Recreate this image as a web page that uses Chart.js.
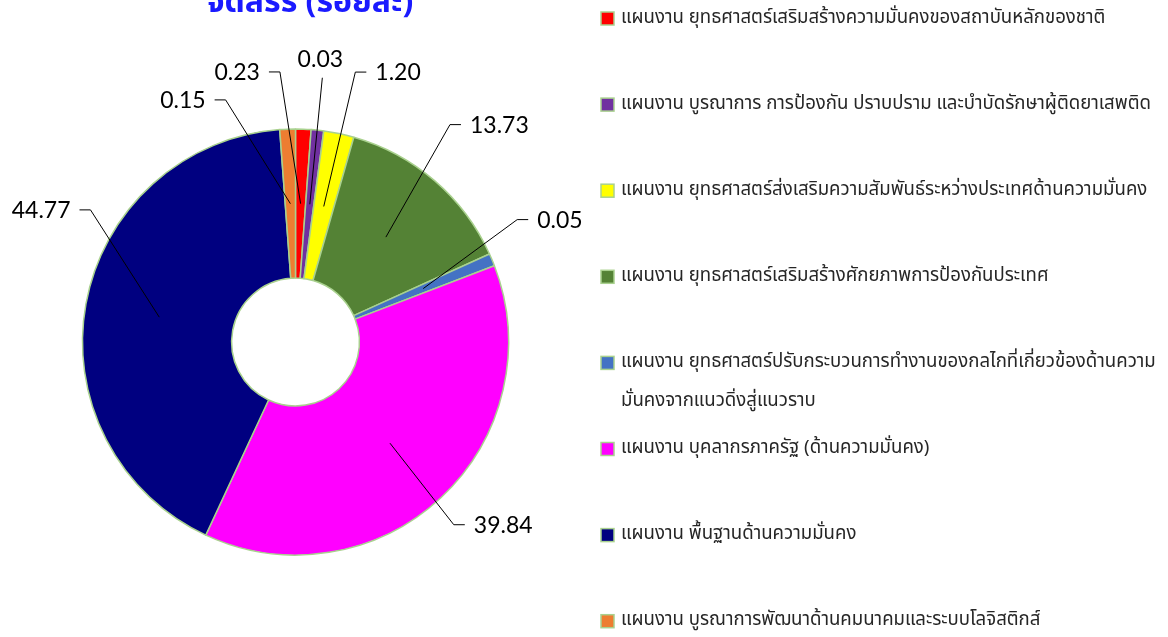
<!DOCTYPE html>
<html>
<head>
<meta charset="utf-8">
<script src="https://cdn.jsdelivr.net/npm/chart.js@4.4.1/dist/chart.umd.min.js"></script>
<style>
  html, body { margin: 0; padding: 0; background: #fff; overflow: hidden; }
</style>
</head>
<body>
<canvas id="myChart" width="1168" height="637"></canvas>
<script>
// ข้อมูลของกราฟ
const categories = [
  'แผนงาน ยุทธศาสตร์เสริมสร้างความมั่นคงของสถาบันหลักของชาติ',
  'แผนงาน บูรณาการ การป้องกัน ปราบปราม และบำบัดรักษาผู้ติดยาเสพติด',
  'แผนงาน ยุทธศาสตร์ส่งเสริมความสัมพันธ์ระหว่างประเทศด้านความมั่นคง',
  'แผนงาน ยุทธศาสตร์เสริมสร้างศักยภาพการป้องกันประเทศ',
  ['แผนงาน ยุทธศาสตร์ปรับกระบวนการทำงานของกลไกที่เกี่ยวข้องด้านความ', 'มั่นคงจากแนวดิ่งสู่แนวราบ'],
  'แผนงาน บุคลากรภาครัฐ (ด้านความมั่นคง)',
  'แผนงาน พื้นฐานด้านความมั่นคง',
  'แผนงาน บูรณาการพัฒนาด้านคมนาคมและระบบโลจิสติกส์'
];
// ขนาดชิ้น (อ่านจากภาพ) และตัวเลขที่พิมพ์บนป้าย
const shares = [1.17, 0.95, 2.30, 13.80, 0.95, 37.75, 41.90, 1.18];
const printedValues = [0.23, 0.03, 1.20, 13.73, 0.05, 39.84, 44.77, 0.15];
const titleText = 'จัดสรร (ร้อยละ)';

const colors = ['#FF0000', '#7030A0', '#FFFF00', '#548235', '#4472C4', '#FF00FF', '#000080', '#ED7D31'];
const edgeColor = '#A9D18E';

// ตำแหน่งป้าย: มุมจากทิศเหนือ (องศา), ระยะเทียบรัศมีนอก, ด้านของข้อความ
const labelSpots = [
  { deg: -3.3, r: 1.270, side: 'left' },
  { deg: 5.8, r: 1.247, side: 'top' },
  { deg: 12.5, r: 1.298, side: 'right' },
  { deg: 35.4, r: 1.252, side: 'right' },
  { deg: 61.1, r: 1.189, side: 'right' },
  { deg: 139.1, r: 1.135, side: 'right' },
  { deg: 302.8, r: 1.145, side: 'left' },
  { deg: -16.1, r: 1.183, side: 'left' }
];

const valueLabels = {
  id: 'valueLabels',
  afterDatasetsDraw(chart) {
    const ctx = chart.ctx;
    const arcs = chart.getDatasetMeta(0).data;
    ctx.save();
    ctx.strokeStyle = '#000';
    ctx.lineWidth = 1;
    ctx.fillStyle = '#000';
    ctx.font = '23px Lato, Carlito, sans-serif';
    arcs.forEach((arc, i) => {
      const spot = labelSpots[i];
      const mid = (arc.startAngle + arc.endAngle) / 2;
      const midR = (arc.innerRadius + arc.outerRadius) / 2;
      const ax = arc.x + Math.cos(mid) * midR;
      const ay = arc.y + Math.sin(mid) * midR;
      const a = spot.deg * Math.PI / 180 - Math.PI / 2;
      const ex = arc.x + Math.cos(a) * spot.r * arc.outerRadius;
      const ey = arc.y + Math.sin(a) * spot.r * arc.outerRadius;
      const txt = printedValues[i].toFixed(2);
      ctx.beginPath();
      ctx.moveTo(ax, ay);
      ctx.lineTo(ex, ey);
      if (spot.side === 'left') {
        ctx.lineTo(ex - 11, ey);
        ctx.stroke();
        ctx.textAlign = 'right';
        ctx.textBaseline = 'alphabetic';
        ctx.fillText(txt, ex - 20, ey + 8);
      } else if (spot.side === 'right') {
        ctx.lineTo(ex + 11, ey);
        ctx.stroke();
        ctx.textAlign = 'left';
        ctx.textBaseline = 'alphabetic';
        ctx.fillText(txt, ex + 20, ey + 8);
      } else {
        ctx.stroke();
        ctx.textAlign = 'center';
        ctx.textBaseline = 'alphabetic';
        ctx.fillText(txt, ex - 2, ey - 11);
      }
    });
    ctx.restore();
  }
};

const sideLegend = {
  id: 'sideLegend',
  afterDraw(chart) {
    const ctx = chart.ctx;
    ctx.save();
    ctx.font = '18.6px Tahoma, "Noto Sans Thai", "Noto Sans", sans-serif';
    ctx.textAlign = 'left';
    ctx.textBaseline = 'middle';
    categories.forEach((label, i) => {
      const y = 19 + i * 86.1;
      ctx.fillStyle = colors[i];
      ctx.fillRect(601, y - 7, 13, 13);
      ctx.strokeStyle = edgeColor;
      ctx.lineWidth = 1.5;
      ctx.strokeRect(601, y - 7, 13, 13);
      ctx.fillStyle = '#262626';
      const lines = Array.isArray(label) ? label : [label];
      lines.forEach((line, j) => ctx.fillText(line, 621, y + j * 39));
    });
    // ชื่อกราฟ (ถูกตัดขอบบน)
    ctx.font = 'bold 32px Tahoma, "Noto Sans Thai", sans-serif';
    ctx.fillStyle = '#1A1AFF';
    ctx.textAlign = 'center';
    ctx.textBaseline = 'alphabetic';
    ctx.fillText(titleText, 310, 12);
    ctx.restore();
  }
};

const chartArea = document.getElementById('myChart').getContext('2d');
const myChart = new Chart(chartArea, {
  type: 'doughnut',
  data: {
    labels: categories,
    datasets: [{
      data: shares,
      backgroundColor: colors,
      borderColor: edgeColor,
      borderWidth: 1.5,
      borderAlign: 'center'
    }]
  },
  options: {
    responsive: false,
    animation: false,
    cutout: '30%',
    layout: { padding: { left: 81.75, top: 128.25, right: 658.75, bottom: 81.25 } },
    plugins: {
      legend: { display: false },
      title: { display: false },
      tooltip: { enabled: false }
    }
  },
  plugins: [valueLabels, sideLegend]
});
</script>
</body>
</html>
